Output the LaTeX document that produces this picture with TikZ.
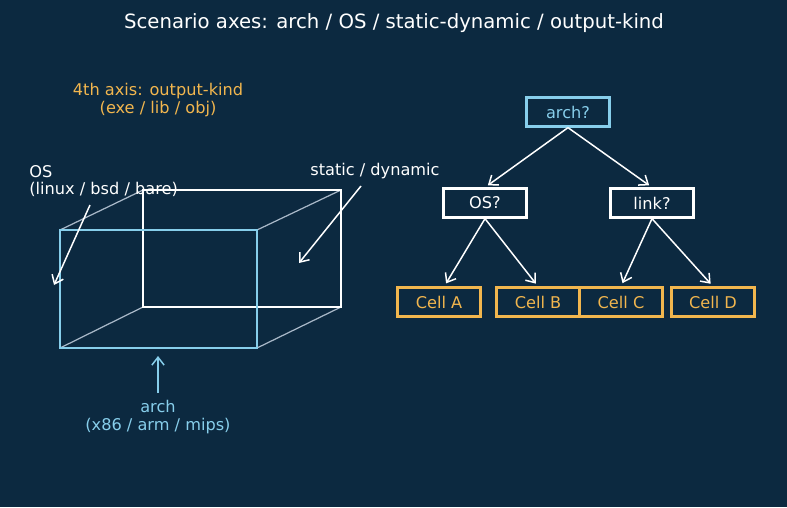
\documentclass[tikz,border=0pt]{standalone}
\usepackage{fontspec}
\setmainfont{DejaVu Sans}
\usetikzlibrary{arrows.meta}

\definecolor{bgnavy}{HTML}{0C2940}
\definecolor{archblue}{HTML}{87CEEB}
\definecolor{cellgold}{HTML}{F2B64E}
\definecolor{edgegray}{HTML}{A9B8C8}

\begin{document}
\begin{tikzpicture}[x=0.02cm, y=-0.02cm, >={Straight Barb[length=4.5pt,width=7pt]},
  lbl/.style={font=\fontsize{9.2}{10}\selectfont, text=white, inner sep=0pt},
  qbox/.style={draw=white, line width=1.3pt, minimum width=1.66cm, minimum height=0.58cm,
    font=\fontsize{9.2}{10}\selectfont, text=white, inner sep=0pt},
  cellbox/.style={qbox, draw=cellgold, text=cellgold},
  arr/.style={->, white, line width=0.85pt}]
  \useasboundingbox[fill=bgnavy] (0,0) rectangle (787,507);

  % title
  \node[lbl, font=\fontsize{11.2}{13}\selectfont] (title) at (394,23) {Scenario axes: arch / OS / static-dynamic / output-kind};

  % cube
  \draw[edgegray, line width=0.7pt] (60,230) -- (143,190) (257,230) -- (341,190)
    (60,348) -- (143,307) (257,348) -- (341,307);
  \draw[white, line width=1.3pt] (143,190) rectangle (341,307);
  \draw[archblue, line width=1.3pt] (60,230) rectangle (257,348);

  % axis labels
  \node[lbl, text=cellgold, align=center] (kind) at (158,100) {4th axis: output-kind\\(exe / lib / obj)};
  \node[lbl, align=left, anchor=west] (os) at (29,181) {OS\\(linux / bsd / bare)};
  \node[lbl, anchor=west] (link) at (310,171) {static / dynamic};
  \node[lbl, text=archblue, align=center] (arch) at (158,417) {arch\\(x86 / arm / mips)};
  \coordinate (osend) at (54,285);
  \coordinate (linkend) at (299,263);
  \coordinate (archend) at (158,356);
  \draw[arr] (90,205) -- (osend);
  \draw[arr] (361,186) -- (linkend);
  \draw[arr, archblue] (158,393) -- (archend);

  % decision tree
  \node[qbox, draw=archblue, text=archblue] (qarch) at (568,112) {arch?};
  \node[qbox] (qos) at (485,203) {OS?};
  \node[qbox] (qlink) at (652,203) {link?};
  \node[cellbox] (ca) at (439,302) {Cell A};
  \node[cellbox] (cb) at (538,302) {Cell B};
  \node[cellbox] (cc) at (621,302) {Cell C};
  \node[cellbox] (cd) at (713,302) {Cell D};
  \draw[arr, shorten >=2pt] (qarch.south) -- (qos.north);
  \draw[arr, shorten >=2pt] (qarch.south) -- (qlink.north);
  \draw[arr, shorten >=2pt] (qos.south) -- ([xshift=3pt]ca.north);
  \draw[arr, shorten >=2pt] (qos.south) -- (cb.north);
  \draw[arr, shorten >=2pt] (qlink.south) -- (cc.north);
  \draw[arr, shorten >=2pt] (qlink.south) -- (cd.north);
\end{tikzpicture}
\end{document}
